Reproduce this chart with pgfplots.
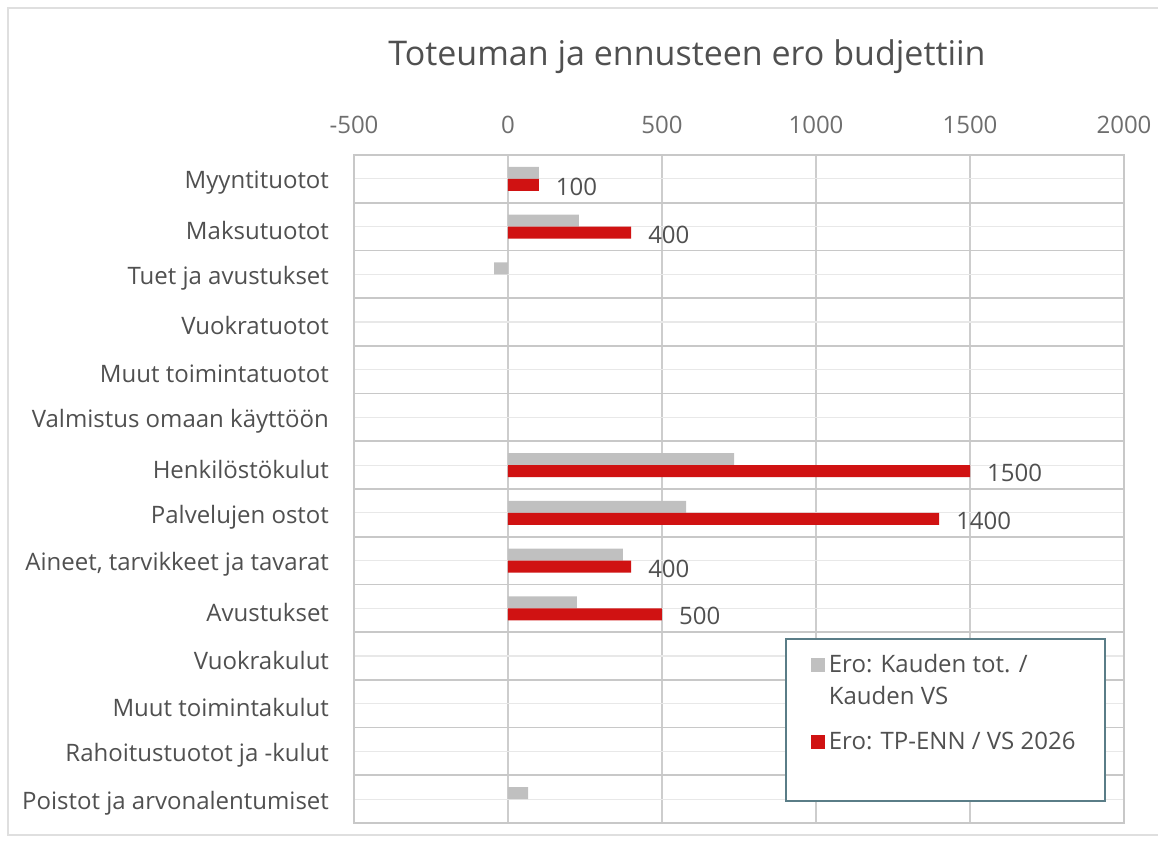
\documentclass[border=0pt]{standalone}
\usepackage{pgfplots}
\pgfplotsset{compat=1.18}
\usepackage{fontspec}
\setmainfont{Open Sans}
\definecolor{barGray}{RGB}{192,192,192}
\definecolor{barRed}{RGB}{208,18,18}
\definecolor{gridGray}{RGB}{205,205,205}
\definecolor{sepGray}{RGB}{200,200,200}
\definecolor{faintGray}{RGB}{232,232,232}
\definecolor{txt}{RGB}{80,80,80}
\definecolor{tickTxt}{RGB}{110,110,110}
\definecolor{legBorder}{RGB}{90,125,135}

\pgfplotsset{
  legimgUp/.style={legend image code/.code={\fill[##1] (0pt,4.5pt) rectangle (7pt,11.5pt);}},
  legimgMid/.style={legend image code/.code={\fill[##1] (0pt,-3.5pt) rectangle (7pt,3.5pt);}},
}

\pgfplotstableread{
y val
0 100
1 230
2 -45
6 734
7 578
8 373
9 224
13 65
}\grayData

\pgfplotstableread{
y val
0 100
1 400
6 1500
7 1400
8 400
9 500
}\redData

\begin{document}
\begin{tikzpicture}
\useasboundingbox (0,0) rectangle (579pt,423pt);
\draw[gray!25, line width=1pt] (4pt,5.5pt) rectangle (600pt,419pt);
\node[font=\fontsize{17}{20}\selectfont, text=txt] at (343.5pt,394.5pt) {Toteuman ja ennusteen ero budjettiin};
\begin{axis}[
  at={(177pt,11.5pt)}, anchor=south west,
  scale only axis, width=385pt, height=334pt,
  xbar, bar width=6pt,
  xmin=-500, xmax=2000,
  ymin=-0.5, ymax=13.5, y dir=reverse,
  xtick={-500,0,500,1000,1500,2000},
  xticklabel pos=right,
  xticklabel style={font=\fontsize{12}{14}\selectfont, text=tickTxt, yshift=7pt},
  /pgf/number format/assume math mode=true,
  /pgf/number format/set thousands separator={},
  ytick={0,...,13},
  yticklabels={Myyntituotot, Maksutuotot, Tuet ja avustukset, Vuokratuotot, Muut toimintatuotot, Valmistus omaan käyttöön, Henkilöstökulut, Palvelujen ostot, {Aineet, tarvikkeet ja tavarat}, Avustukset, Vuokrakulut, Muut toimintakulut, Rahoitustuotot ja -kulut, Poistot ja arvonalentumiset},
  yticklabel style={font=\fontsize{12}{14}\selectfont, text=txt, xshift=-9pt, yshift=-2pt},
  minor ytick={0.5,1.5,...,12.5},
  major tick length=0pt, minor tick length=0pt,
  xmajorgrids, ymajorgrids, yminorgrids,
  x grid style={gridGray, line width=0.8pt},
  major grid style={faintGray, line width=0.6pt},
  minor grid style={sepGray, line width=0.8pt},
  axis line style={sepGray, line width=0.8pt},
  legend style={draw=none, fill=none, at={(0.585,0.265)}, anchor=north west,
    font=\fontsize{12}{16}\selectfont, text=txt, legend cell align=left,
    nodes={align=left}, row sep=8pt},
  legimgMid,
  clip=false,
]
\addplot[fill=barGray, draw=none, bar shift=3pt, legimgUp] table[x=val, y=y] {\grayData};
\addlegendentry{Ero: Kauden tot. /\\Kauden VS}
\addplot[fill=barRed, draw=none, bar shift=-3pt,
  nodes near coords, point meta=x,
  every node near coord/.append style={font=\fontsize{12}{14}\selectfont, text=txt, xshift=5pt, yshift=-1pt, /pgf/number format/set thousands separator={}},
  nodes near coords align={horizontal}] table[x=val, y=y] {\redData};
\addlegendentry{Ero: TP-ENN / VS 2026}
\draw[legBorder, line width=0.8pt, fill=white] (axis description cs:0.561,0.2754) rectangle (axis description cs:0.975,0.0329);
\end{axis}
\end{tikzpicture}
\end{document}
